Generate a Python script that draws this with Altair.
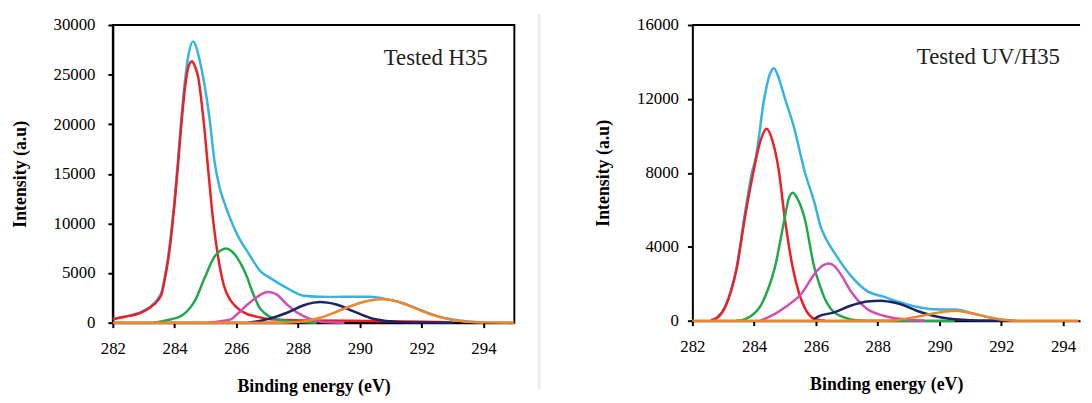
import altair as alt
import pandas as pd

FONT = "Liberation Serif"

x_ticks = [282, 284, 286, 288, 290, 292, 294]
x_title = "Binding energy (eV)"
y_title = "Intensity (a.u)"

# ---------------- Tested H35 (left panel) ----------------
h35_label = "Tested H35"
h35_y_ticks = [0, 5000, 10000, 15000, 20000, 25000, 30000]

h35_cyan_e = [282.0, 282.4, 282.9, 283.2, 283.47, 283.58, 283.69, 283.8, 283.9, 284.0, 284.1, 284.2,
              284.35, 284.45, 284.6, 284.7, 284.8, 284.95, 285.13, 285.29, 285.45, 285.61, 285.8, 286.04,
              286.36, 286.79, 287.1, 287.64, 288.18, 288.7, 289.24, 289.8, 290.31, 290.74, 291.38,
              292.02, 292.66, 293.52, 294.0]
h35_cyan_i = [380, 630, 1050, 1580, 2450, 3100, 4750, 6850, 9400, 12450, 16000, 19900,
              24800, 27000, 28350, 27800, 26600, 24300, 20600, 16300, 13700, 12100, 10500, 8800,
              7150, 5150, 4490, 3490, 2720, 2620, 2600, 2610, 2620, 2450, 1980,
              1200, 520, 110, 0]

h35_red_e = [282.0, 282.4, 282.9, 283.2, 283.47, 283.58, 283.69, 283.8, 283.9, 284.0, 284.1, 284.2,
             284.35, 284.45, 284.56, 284.65, 284.76, 284.95, 285.1, 285.24, 285.4, 285.6, 285.8,
             285.93, 286.1, 286.36, 286.6, 287.1, 288.2, 290.3, 292.6, 293.0]
h35_red_i = [350, 600, 1000, 1500, 2300, 2900, 4500, 6500, 9000, 12000, 15500, 19300,
             24000, 25800, 26350, 25900, 24800, 20000, 15000, 10500, 6800, 3700, 2300,
             1800, 1300, 850, 650, 350, 230, 170, 70, 0]

h35_green_e = [283.3, 283.6, 283.9, 284.22, 284.45, 284.65, 284.97, 285.29, 285.5, 285.66, 285.85,
               286.04, 286.2, 286.36, 286.47, 286.6, 286.73, 286.9, 287.1, 287.6, 288.0, 288.6]
h35_green_i = [0, 150, 350, 700, 1300, 2160, 4490, 6650, 7300, 7480, 7200,
               6480, 5600, 4490, 3490, 2500, 1600, 1000, 570, 170, 80, 0]

h35_mag_e = [285.1, 285.5, 285.82, 286.04, 286.36, 286.7, 286.9, 287.05, 287.3, 287.64, 287.9,
             288.18, 288.6, 289.0, 289.5]
h35_mag_i = [0, 150, 330, 900, 1830, 2650, 3000, 3090, 2850, 1830, 1150,
             670, 170, 30, 0]

h35_navy_e = [286.4, 286.8, 287.1, 287.64, 288.18, 288.5, 288.71, 288.95, 289.24, 289.78, 290.31,
              290.85, 291.4, 292.0, 293.0]
h35_navy_i = [0, 200, 430, 1000, 1760, 2020, 2090, 2020, 1830, 1160, 500,
              170, 50, 10, 0]

h35_orange_e = [282.0, 287.5, 288.18, 288.71, 289.24, 289.78, 290.31, 290.74, 291.17, 291.7,
                292.23, 292.77, 293.3, 294.0, 295.0]
h35_orange_i = [0, 0, 130, 500, 1100, 1760, 2230, 2360, 2160, 1560,
                900, 430, 150, 30, 0]

# ---------------- Tested UV/H35 (right panel) ----------------
uv_label = "Tested UV/H35"
uv_y_ticks = [0, 4000, 8000, 12000, 16000]

uv_cyan_e = [282.6, 282.8, 283.06, 283.44, 283.7, 283.94, 284.05, 284.32, 284.5, 284.64, 284.8,
             285.01, 285.3, 285.63, 285.95, 286.15, 286.32, 286.59, 287.12, 287.66, 288.19,
             288.72, 289.26, 289.79, 290.54, 291.08, 291.61, 292.04, 292.5]
uv_cyan_i = [30, 170, 760, 2950, 5800, 8100, 8800, 11950, 13300, 13660, 13100,
             11950, 10400, 8100, 6400, 5100, 4450, 3700, 2450, 1600, 1300,
             1000, 750, 620, 600, 390, 180, 50, 0]

uv_red_e = [282.6, 282.8, 283.06, 283.25, 283.44, 283.7, 283.97, 284.2, 284.4, 284.6, 284.8,
            284.99, 285.25, 285.45, 285.63, 285.95, 286.3]
uv_red_i = [20, 150, 720, 1600, 2870, 5570, 8000, 9700, 10390, 9700, 8100,
            5570, 2870, 1500, 720, 100, 0]

uv_green_e = [283.4, 283.6, 283.9, 284.24, 284.45, 284.67, 284.99, 285.12, 285.25, 285.4, 285.63,
              285.95, 286.05, 286.32, 286.48, 286.91, 287.3, 288.0, 290.5]
uv_green_i = [0, 30, 250, 900, 1700, 2870, 5570, 6600, 6920, 6600, 5570,
              2870, 2300, 1080, 650, 180, 30, 0, 0]

uv_mag_e = [284.2, 284.6, 284.99, 285.52, 285.95, 286.15, 286.32, 286.43, 286.6, 286.8, 287.12,
            287.66, 288.19, 288.72, 289.5]
uv_mag_i = [0, 300, 720, 1440, 2520, 2900, 3060, 3090, 2950, 2520, 1620,
            630, 270, 100, 0]

uv_navy_e = [285.9, 286.05, 286.59, 287.12, 287.66, 288.08, 288.4, 288.72, 289.26, 289.79, 290.33,
             290.86, 291.5, 292.3]
uv_navy_i = [0, 210, 450, 810, 1040, 1080, 1020, 900, 540, 270, 100,
             40, 10, 0]

uv_orange_e = [282.0, 288.3, 288.72, 289.26, 289.79, 290.2, 290.54, 290.8, 291.08, 291.61, 292.04,
               292.5, 294.5]
uv_orange_i = [0, 0, 60, 210, 390, 500, 540, 480, 390, 180, 50,
               0, 0]

C_CYAN = "#35b2e6"
C_RED = "#ec1f26"
C_GREEN = "#21a84b"
C_MAG = "#d04db3"
C_NAVY = "#1d2463"
C_ORANGE = "#f2842a"


def panel(series, x_max, y_max, y_ticks, w, h, label, lx, ly, y_lab_pad, extra, view):
    xs = alt.Scale(domain=[282, x_max], nice=False, zero=False)
    ys = alt.Scale(domain=[0, y_max], nice=False)
    ax_x = alt.Axis(values=x_ticks, title=x_title, labelFlush=False, labelPadding=13,
                    titlePadding=22, grid=False, labelFont=FONT, titleFont=FONT,
                    labelFontSize=17, titleFontSize=18, titleFontWeight="bold")
    ax_y = alt.Axis(values=y_ticks, title=y_title, format="d", labelPadding=y_lab_pad,
                    titlePadding=24, grid=False, labelFont=FONT, titleFont=FONT,
                    labelFontSize=17, titleFontSize=18, titleFontWeight="bold")
    layers = []
    for e, i, c in series:
        df = pd.DataFrame({"E": e, "I": i})
        layers.append(
            alt.Chart(df).mark_line(color=c, strokeWidth=2.5, interpolate="monotone").encode(
                x=alt.X("E:Q", scale=xs, axis=ax_x),
                y=alt.Y("I:Q", scale=ys, axis=ax_y),
            )
        )
    txt = alt.Chart(pd.DataFrame({"t": [label]})).mark_text(
        align="left", baseline="middle", fontSize=23, font=FONT, color="#222222"
    ).encode(x=alt.value(lx), y=alt.value(ly), text="t:N")
    return alt.layer(*layers, txt, *extra).properties(width=w, height=h, view=view)


divider = alt.Chart(pd.DataFrame({"d": [0]})).mark_rule(color="#ececec", strokeWidth=3).encode(
    x=alt.value(431), y=alt.value(-11), y2=alt.value(368))

top_border = alt.Chart(pd.DataFrame({"d": [0]})).mark_rule(color="black", strokeWidth=2).encode(
    x=alt.value(0), x2=alt.value(392), y=alt.value(0))

left = panel(
    [(h35_cyan_e, h35_cyan_i, C_CYAN), (h35_red_e, h35_red_i, C_RED),
     (h35_green_e, h35_green_i, C_GREEN), (h35_mag_e, h35_mag_i, C_MAG),
     (h35_navy_e, h35_navy_i, C_NAVY), (h35_orange_e, h35_orange_i, C_ORANGE)],
    295, 30000, h35_y_ticks, 406, 301, h35_label, 274, 33, 13, [divider],
    alt.ViewBackground(stroke="black", strokeWidth=2),
)

right = panel(
    [(uv_cyan_e, uv_cyan_i, C_CYAN), (uv_red_e, uv_red_i, C_RED),
     (uv_green_e, uv_green_i, C_GREEN), (uv_mag_e, uv_mag_i, C_MAG),
     (uv_navy_e, uv_navy_i, C_NAVY), (uv_orange_e, uv_orange_i, C_ORANGE)],
    294.55, 16000, uv_y_ticks, 392, 299, uv_label, 227, 32, 9, [top_border],
    alt.ViewBackground(stroke="transparent"),
)

chart = alt.hconcat(left, right, spacing=53).properties(
    padding={"left": 2, "top": 1, "right": 0, "bottom": 0},
    background="white",
).configure_axis(
    labelFont=FONT, titleFont=FONT, labelFontSize=17, titleFontSize=18,
    titleFontWeight="bold", labelColor="black", titleColor="black",
    domainColor="black", domainWidth=2, tickColor="black", tickWidth=2, tickSize=5,
)

chart.save("out.html", embed_options={"renderer": "svg", "actions": False})
